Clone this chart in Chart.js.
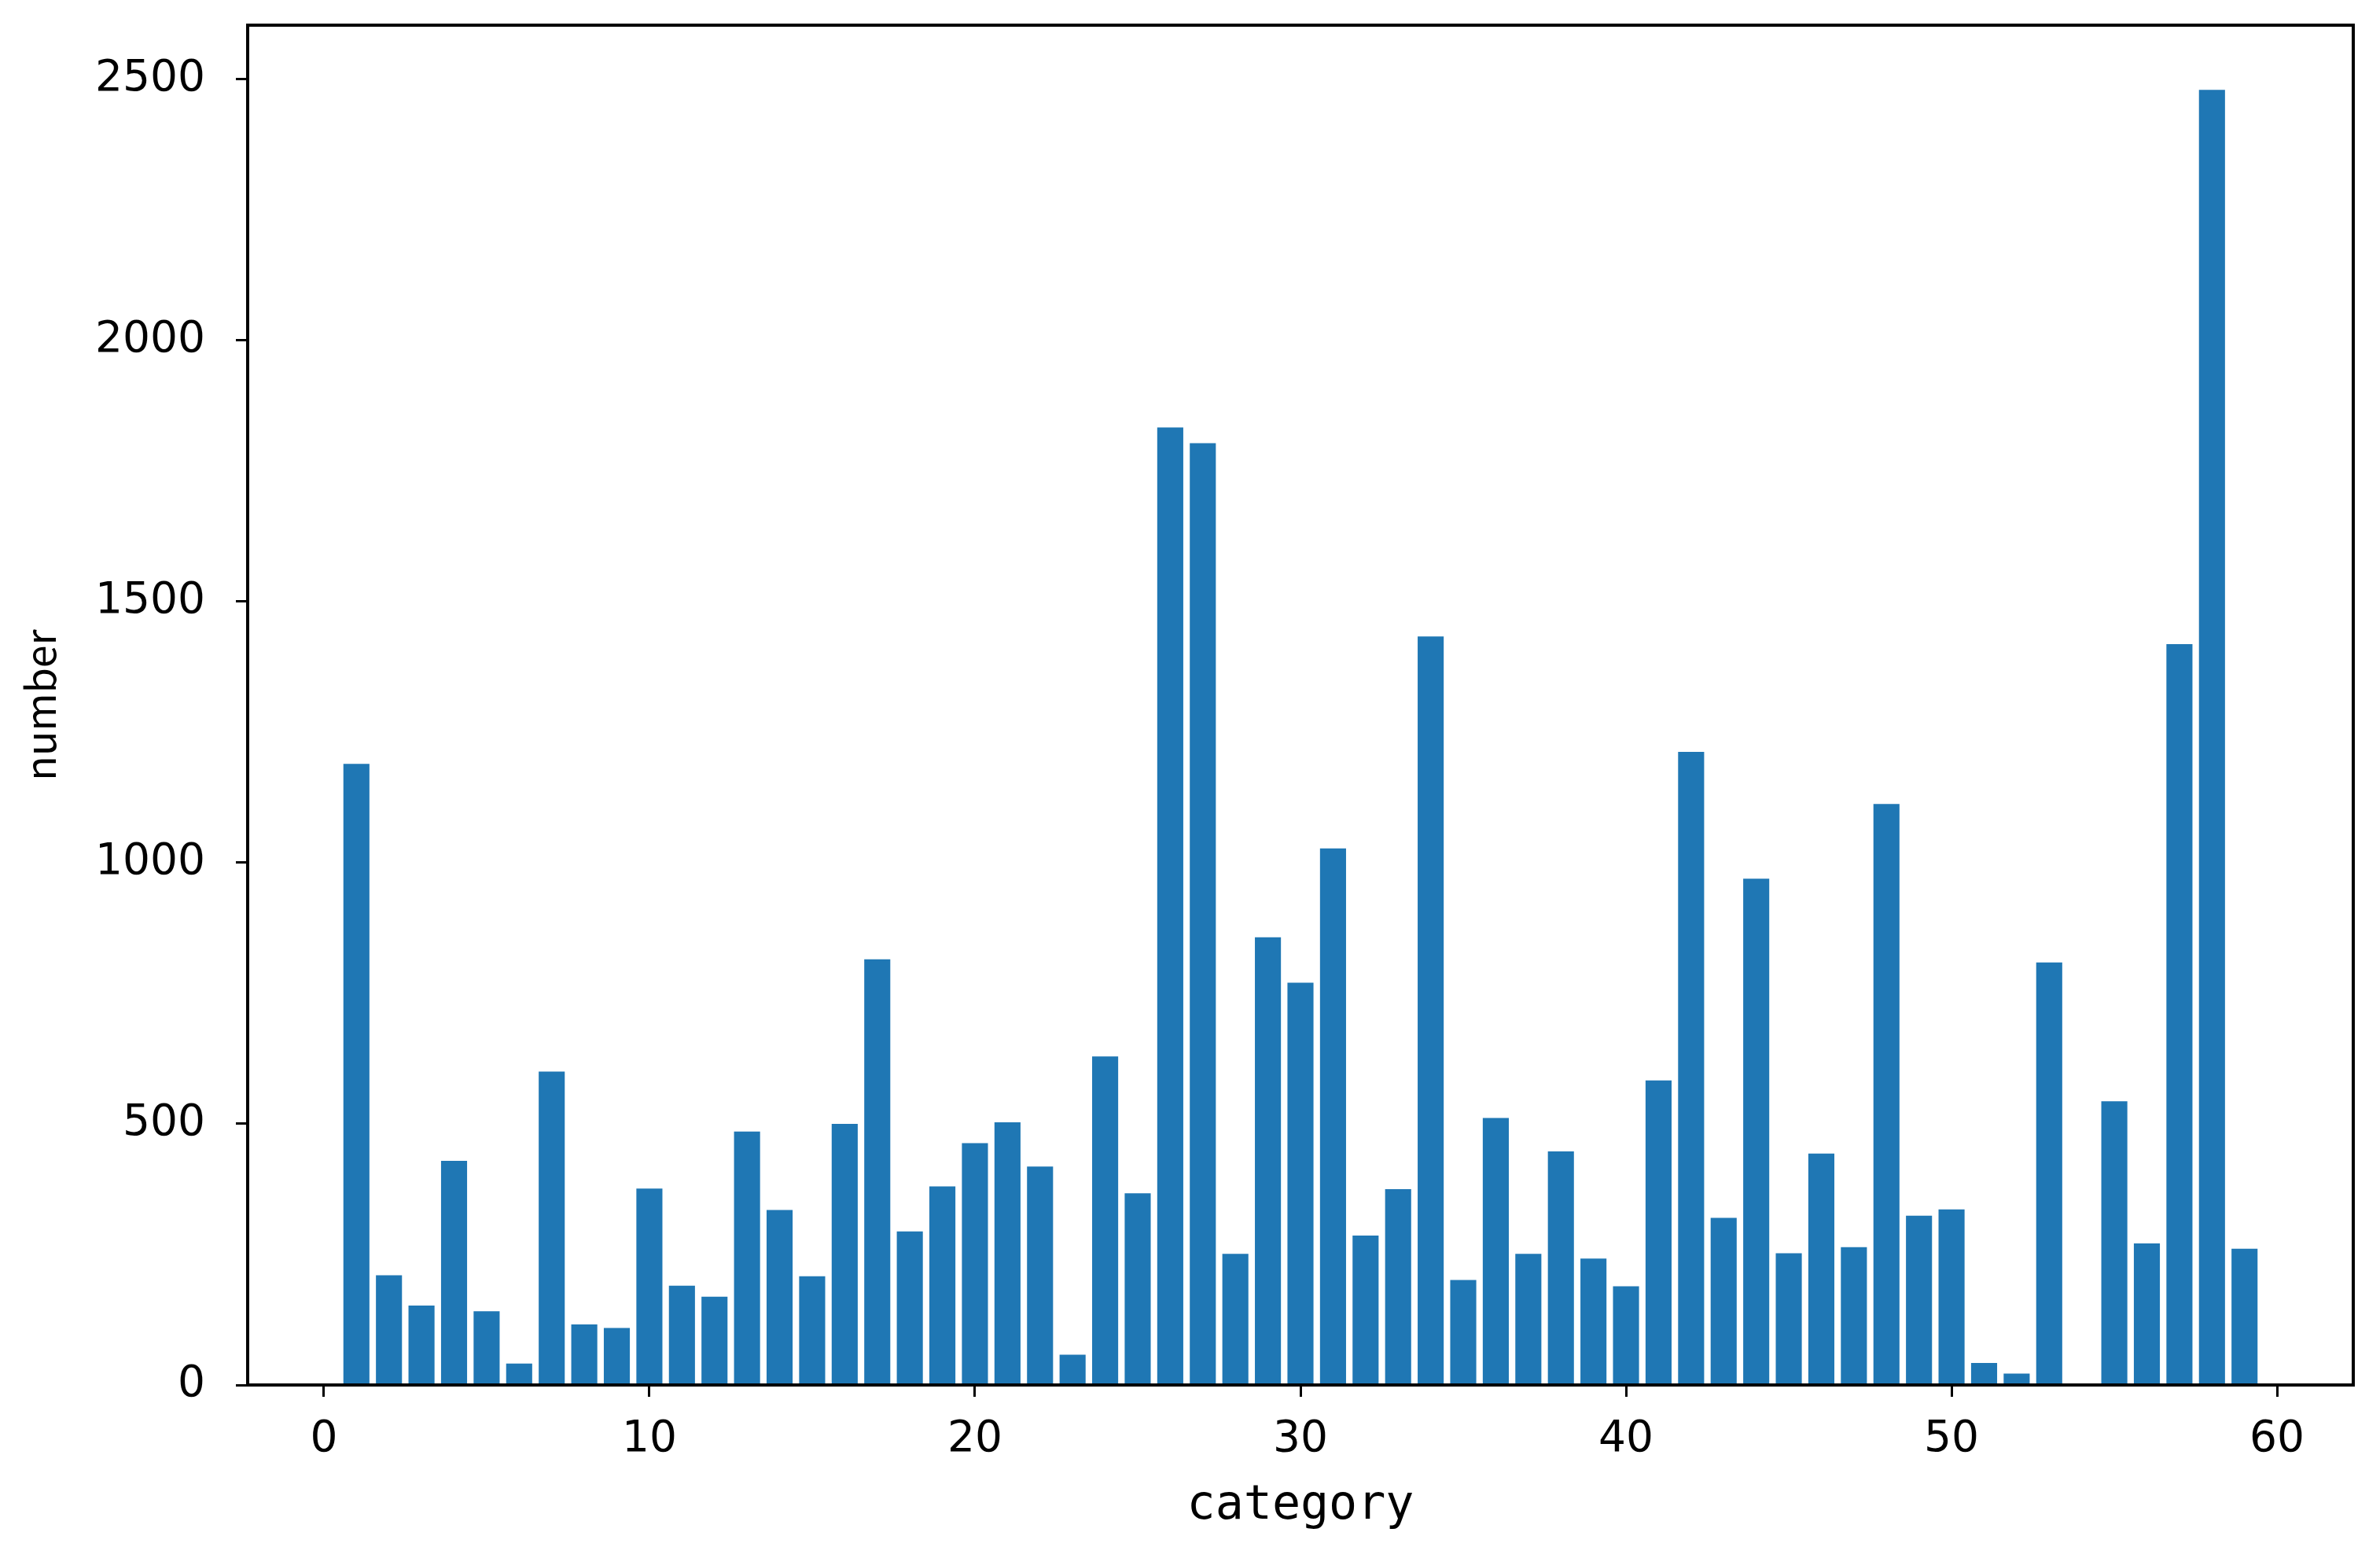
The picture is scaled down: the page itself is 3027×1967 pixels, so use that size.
<!DOCTYPE html>
<html>
<head>
<meta charset="utf-8">
<script src="https://cdn.jsdelivr.net/npm/chart.js@4"></script>
<style>
  html, body { margin: 0; padding: 0; background: #fff; }
  #wrap { width: 3027px; height: 1967px; }
</style>
</head>
<body>
<div id="wrap"><canvas id="chart" width="3027" height="1967"></canvas></div>
<script>
// category index 1..59 and the count
const categories = [
  1, 2, 3, 4, 5, 6, 7, 8, 9, 10,
  11, 12, 13, 14, 15, 16, 17, 18, 19, 20,
  21, 22, 23, 24, 25, 26, 27, 28, 29, 30,
  31, 32, 33, 34, 35, 36, 37, 38, 39, 40,
  41, 42, 43, 44, 45, 46, 47, 48, 49, 50,
  51, 52, 53, 54, 55, 56, 57, 58, 59,
];
const counts = [
  1189, 210, 152, 429, 141, 41, 600, 116, 109, 376,
  190, 169, 485, 335, 208, 500, 815, 294, 380, 463,
  503, 418, 58, 629, 367, 1833, 1803, 251, 857, 770,
  1027, 286, 375, 1433, 201, 511, 251, 447, 242, 189,
  583, 1212, 320, 969, 252, 443, 264, 1112, 324, 336,
  42, 22, 809, 0, 543, 271, 1418, 2479, 261,
];
const xTicks = [0, 10, 20, 30, 40, 50, 60];
const yTicks = [0, 500, 1000, 1500, 2000, 2500];

const BAR_COLOR = "#1f77b4";
const TICK_FONT = { family: '"DejaVu Sans", sans-serif', size: 55 };

const PLOT = { left: 315, right: 2993, top: 32, bottom: 1761 };

const frameBox = {
  id: "frameBox",
  afterDraw(chart) {
    const { ctx, chartArea: a } = chart;
    ctx.save();
    ctx.strokeStyle = "#000";
    ctx.lineWidth = 4;
    ctx.strokeRect(a.left, a.top, a.right - a.left, a.bottom - a.top);
    ctx.restore();
  },
};

const whiteBg = {
  id: "whiteBg",
  beforeDraw(chart) {
    const ctx = chart.ctx;
    ctx.save();
    ctx.fillStyle = "#fff";
    ctx.fillRect(0, 0, chart.width, chart.height);
    ctx.restore();
  },
};

function keepTicks(list) {
  return (scale) => {
    scale.ticks = list.map((v) => ({ value: v }));
  };
}

const tickGrid = {
  display: true,
  drawOnChartArea: false,
  drawTicks: true,
  offset: false,
  tickLength: 15,
  tickWidth: 3,
  tickColor: "#000",
};

new Chart(document.getElementById("chart"), {
  type: "bar",
  data: {
    datasets: [
      {
        label: "number",
        data: categories.map((c, i) => ({ x: c, y: counts[i] })),
        backgroundColor: BAR_COLOR,
        borderWidth: 0,
        barPercentage: 0.8,
        categoryPercentage: 1.0,
      },
    ],
  },
  plugins: [whiteBg, frameBox],
  options: {
    responsive: false,
    animation: false,
    layout: {
      padding: { left: 0, top: PLOT.top, right: 3027 - PLOT.right, bottom: 0 },
    },
    plugins: {
      legend: { display: false },
      tooltip: { enabled: false },
    },
    scales: {
      x: {
        type: "linear",
        min: -2.34,
        max: 62.34,
        offset: false,
        afterBuildTicks: keepTicks(xTicks),
        afterFit(scale) {
          scale.height = 1967 - PLOT.bottom;
          scale.paddingLeft = 0;
          scale.paddingRight = 0;
        },
        ticks: {
          color: "#000",
          font: TICK_FONT,
          padding: 22,
          maxRotation: 0,
          autoSkip: false,
          callback: (v) => String(v),
        },
        grid: tickGrid,
        border: { display: false },
        title: {
          display: true,
          text: "category",
          color: "#000",
          font: { family: '"DejaVu Sans Mono", monospace', size: 60 },
          padding: { top: 0, bottom: 16 },
        },
      },
      y: {
        min: 0,
        max: 2603,
        afterBuildTicks: keepTicks(yTicks),
        afterFit(scale) {
          scale.width = PLOT.left;
          scale.paddingTop = 0;
          scale.paddingBottom = 0;
        },
        ticks: {
          color: "#000",
          font: TICK_FONT,
          padding: 39,
          callback: (v) => String(v),
        },
        grid: tickGrid,
        border: { display: false },
        title: {
          display: true,
          text: "number",
          color: "#000",
          font: { family: '"Noto Sans CJK SC", sans-serif', size: 52 },
          padding: { top: 20, bottom: 0 },
        },
      },
    },
  },
});
</script>
</body>
</html>
